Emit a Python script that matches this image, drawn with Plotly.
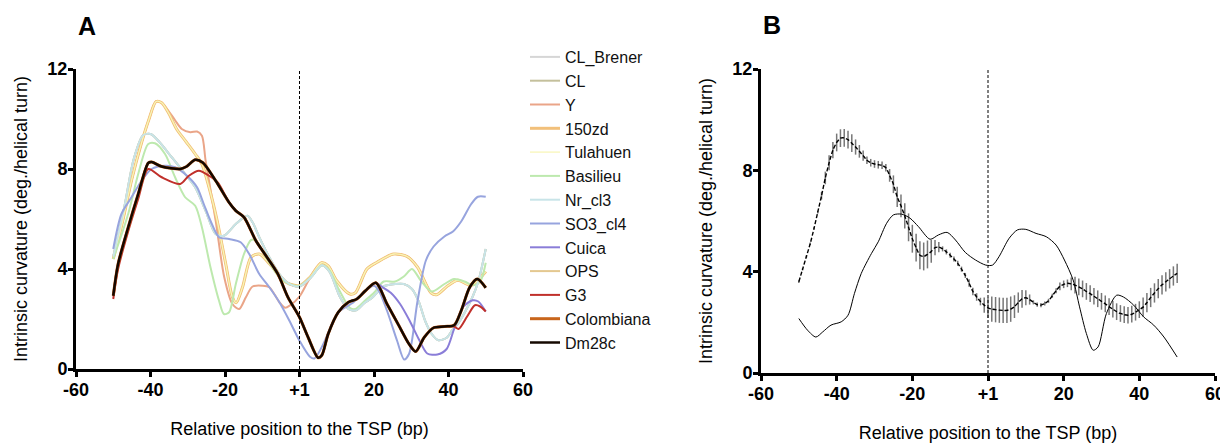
import plotly.graph_objects as go

# ---------------- Panel A data (position in bp, curvature in deg./helical turn) ----------------
dm28c_x = [-50, -48.7, -46, -43.3, -40.6, -39.7, -37, -32, -30.3, -28, -26, -22.5, -18.9, -17.1, -14.9,
           -11.7, -9, -5.8, -3.1, 0, 2.3, 5, 6, 7.7, 10.4, 13.1, 15.4, 17.7, 20.5, 23.5, 26.7, 29.4,
           31.2, 33.5, 36, 38.9, 41.5, 43.4, 45.7, 47.7, 50]
dm28c_y = [2.93, 4.2, 5.66, 7.0, 8.24, 8.28, 8.1, 8.0, 8.1, 8.37, 8.26, 7.53, 6.66, 6.33, 6.07,
           5.13, 4.53, 3.8, 2.87, 2.07, 1.27, 0.45, 0.55, 1.4, 2.27, 2.67, 2.8, 3.13, 3.45, 2.6, 1.73, 1.0,
           0.7, 1.27, 1.65, 1.7, 1.75, 2.33, 3.27, 3.6, 3.25]

colombiana_x = dm28c_x
colombiana_y = dm28c_y

g3_x = [-50, -48.7, -46, -43.3, -40.6, -37, -32, -29.7, -27, -24.3, -22, -18.9, -17.1, -14.9,
        -11.7, -9, -5.8, -3.1, 0, 2.3, 5, 6, 7.7, 10.4, 13.1, 15.4, 17.7, 20.5, 23.5, 26.7, 29.4,
        31.2, 33.5, 36, 38.9, 41.5, 42.7, 45, 47.1, 48.5, 50]
g3_y = [2.8, 4.0, 5.5, 6.8, 8.0, 7.67, 7.4, 7.73, 7.93, 7.73, 7.47, 6.66, 6.33, 6.07,
        5.13, 4.53, 3.8, 2.87, 2.07, 1.27, 0.45, 0.55, 1.4, 2.27, 2.67, 2.8, 3.13, 3.45, 2.6, 1.73, 1.0,
        0.7, 1.27, 1.65, 1.7, 1.7, 1.6, 2.1, 2.55, 2.5, 2.3]

cuica_x = [-50, -48.7, -46, -43.3, -40.6, -39.7, -37, -32, -30.3, -28, -26, -22.5, -18.9, -17.1, -14.9,
           -11.7, -9, -5.8, -3.1, 0, 2.3, 5, 6, 7.7, 10.4, 13.1, 15.4, 17.7, 20.5, 22, 24.5, 27, 29.5,
           32, 34.3, 37, 39.5, 41.5, 44, 46.5, 48, 50]
cuica_y = [2.93, 4.2, 5.66, 7.0, 8.24, 8.28, 8.1, 8.0, 8.1, 8.37, 8.26, 7.53, 6.66, 6.33, 6.07,
           5.13, 4.53, 3.8, 2.87, 2.07, 1.27, 0.45, 0.55, 1.4, 2.27, 2.67, 2.8, 3.13, 3.45, 3.3, 3.05, 2.6, 1.95,
           1.2, 0.62, 0.58, 0.8, 1.6, 2.5, 2.75, 2.7, 2.3]

so3_x = [-50, -47.8, -45.1, -42.4, -39.7, -36.1, -33.4, -30.2, -27.5, -25.7, -23.9, -21.6, -18.9, -15.8,
         -13.5, -10.8, -8.1, -5.4, -2.7, 0, 2.8, 4, 6.4, 9.1, 10.9, 14.5, 17.7, 20, 21.3, 23.5, 26.2,
         28.1, 29.4, 31.7, 33.9, 36, 38.9, 41.2, 43.4, 46.1, 47.9, 50]
so3_y = [4.8, 6.2, 6.87, 7.53, 8.0, 8.13, 8.07, 7.73, 7.27, 6.6, 5.93, 5.27, 5.2, 5.07,
         4.6, 3.8, 3.27, 2.67, 1.93, 1.13, 0.49, 0.42, 1.0, 1.93, 2.33, 2.67, 3.13, 3.33, 3.13, 2.33, 1.13,
         0.38, 0.6, 2.73, 4.33, 4.9, 5.3, 5.5, 5.9, 6.6, 6.89, 6.89]

yellow_x = [-50, -47.5, -45, -42.5, -40.5, -38.5, -37, -35, -33, -30.5, -28, -26.2, -24.3, -22.1, -19.8,
            -18, -17, -15.3, -13, -10.8, -8, -3.6, 0, 2.8, 5.9, 7.7, 10, 13.5, 15, 18.1, 20.8, 25.3, 28.9,
            31.7, 35.3, 36.8, 39.8, 42.5, 46.1, 50]
yellow_y = [4.4, 5.9, 7.6, 9.0, 9.95, 10.7, 10.65, 10.2, 9.6, 9.1, 8.6, 8.2, 7.27, 5.93, 4.2,
            2.87, 2.65, 3.27, 4.47, 4.6, 4.2, 3.47, 3.33, 3.67, 4.25, 4.13, 3.53, 3.0, 3.05, 4.0, 4.27, 4.6, 4.5,
            4.07, 3.05, 2.97, 3.33, 3.55, 3.35, 3.9]
zd150_x, zd150_y = yellow_x, yellow_y
tulahuen_x, tulahuen_y = yellow_x, yellow_y
ops_x, ops_y = yellow_x, yellow_y

y_x = [-50, -47.5, -45, -42.5, -40.5, -38.5, -37, -35.2, -33.4, -31.6, -29.3, -27.5, -26.2, -25.2, -22.5,
       -20.2, -18, -16.2, -14.4, -12.6, -9.9, -8.1, -5.4, -3.9, -2.5, 0, 1.9, 3.7, 5.9, 7.7, 10, 13.5, 15,
       18.1, 20.8, 25.3, 28.9, 31.7, 35.3, 36.8, 39.8, 42.5, 46.1, 50]
y_y = [4.4, 5.9, 7.6, 9.0, 9.95, 10.7, 10.65, 10.33, 9.95, 9.6, 9.47, 9.5, 9.33, 8.33, 5.93,
       3.67, 2.6, 2.4, 2.87, 3.3, 3.33, 3.27, 2.67, 2.45, 2.55, 2.9, 3.4, 3.87, 4.25, 4.13, 3.53, 3.0, 3.05,
       4.0, 4.27, 4.6, 4.5, 4.07, 3.05, 2.97, 3.33, 3.55, 3.35, 3.9]

basilieu_x = [-50, -46, -43.3, -40.6, -38.8, -36.1, -33.4, -30.7, -28, -26.2, -23.9, -21.6, -20.3, -18.9,
              -17.1, -14.9, -13, -11.7, -9, -5.4, -2.7, 0, 3, 6, 8, 10.5, 13.5, 15, 17.7, 20, 22.6, 25.7,
              28, 30.2, 32.6, 35.5, 38.9, 41.5, 44.3, 46.5, 48.5, 50]
basilieu_y = [4.4, 6.2, 7.8, 9.0, 9.03, 8.6, 7.67, 6.87, 6.53, 5.67, 4.07, 2.73, 2.2, 2.27,
              3.4, 4.6, 5.16, 5.13, 4.47, 3.67, 3.4, 3.33, 3.67, 4.15, 3.95, 3.2, 2.45, 2.4, 2.75, 3.05, 3.5, 3.5,
              3.7, 4.0, 3.53, 3.1, 3.4, 3.6, 3.5, 3.35, 3.5, 4.25]

nr_x = [-50, -47, -44.5, -42, -40, -37.9, -34.3, -30.7, -28, -25.2, -22.5, -20.3, -17.1, -14, -12.6,
        -10.8, -8.1, -5.4, -2.7, 0, 3, 6, 8, 10.9, 13.1, 15.2, 17.5, 19.5, 22.5, 25.7, 28, 30.2, 32,
        33.8, 35.5, 37.3, 39.5, 41, 42.5, 44.5, 46.5, 48, 50]
nr_y = [4.5, 6.5, 8.4, 9.35, 9.4, 9.13, 8.47, 7.8, 7.27, 6.33, 5.4, 5.33, 5.8, 6.13, 5.87,
        5.27, 4.47, 3.8, 3.4, 3.3, 3.65, 4.15, 3.9, 2.87, 2.4, 2.35, 2.65, 2.85, 3.3, 3.4, 3.4, 3.2, 2.7,
        1.9, 1.4, 1.15, 1.25, 1.55, 1.8, 2.3, 2.9, 3.5, 4.8]
cl_brener_x, cl_brener_y = nr_x, nr_y
cl_x, cl_y = nr_x, nr_y

# ---------------- Panel B data ----------------
b_pos = list(range(-50, 51))
b_mean = [3.6, 4.1, 4.6, 5.1, 5.7, 6.35, 7.0, 7.7, 8.3, 8.8,
          9.1, 9.27, 9.28, 9.21, 9.07, 8.92, 8.75, 8.58, 8.4, 8.3,
          8.25, 8.22, 8.2, 8.1, 7.8, 7.45, 6.95, 6.6, 6.2, 5.75,
          5.3, 4.95, 4.65, 4.6, 4.68, 4.8, 4.95, 4.97, 4.9, 4.78,
          4.65, 4.5, 4.33, 4.1, 3.85, 3.55, 3.22, 3.0, 2.82, 2.68,
          2.57, 2.52, 2.5, 2.48, 2.47, 2.47, 2.52, 2.62, 2.78, 2.93,
          2.97, 2.9, 2.79, 2.7, 2.68, 2.74, 2.85, 3.05, 3.25, 3.42,
          3.5, 3.54, 3.52, 3.47, 3.4, 3.32, 3.22, 3.13, 3.03, 2.93,
          2.83, 2.73, 2.62, 2.52, 2.42, 2.35, 2.3, 2.28, 2.32, 2.4,
          2.5, 2.6, 2.78, 2.98, 3.16, 3.33, 3.48, 3.6, 3.72, 3.83,
          3.93]
b_err = [0.05, 0.05, 0.05, 0.05, 0.05, 0.05, 0.15, 0.25, 0.3, 0.32,
         0.35, 0.35, 0.35, 0.35, 0.35, 0.3, 0.25, 0.2, 0.15, 0.15,
         0.15, 0.15, 0.15, 0.15, 0.25, 0.35, 0.4, 0.45, 0.5, 0.55,
         0.55, 0.55, 0.55, 0.55, 0.55, 0.45, 0.3, 0.2, 0.1, 0.1,
         0.1, 0.1, 0.1, 0.1, 0.1, 0.15, 0.15, 0.15, 0.15, 0.3,
         0.4, 0.5, 0.5, 0.5, 0.5, 0.5, 0.5, 0.45, 0.4, 0.35,
         0.3, 0.2, 0.08, 0.08, 0.08, 0.08, 0.08, 0.08, 0.1, 0.15,
         0.15, 0.15, 0.25, 0.33, 0.33, 0.33, 0.33, 0.33, 0.33, 0.33,
         0.33, 0.33, 0.33, 0.33, 0.33, 0.33, 0.33, 0.33, 0.33, 0.33,
         0.33, 0.38, 0.38, 0.38, 0.38, 0.38, 0.38, 0.38, 0.38, 0.38,
         0.38]
b_line_x = [-50, -47.7, -45.5, -43.7, -41.5, -38.8, -37, -35.3, -33.5, -30.8, -29, -26.8, -25, -22.8,
            -20.6, -18.4, -15.3, -13.1, -10.8, -8.6, -6, -3.3, -0.6, 1.2, 2.9, 5.6, 7.8, 10, 12.7, 15.4,
            18, 20.2, 22.5, 24.2, 26, 27.8, 29.1, 31.3, 34, 35.8, 38.5, 41.1, 43.8, 46.5, 50]
b_line_y = [2.15, 1.69, 1.42, 1.62, 1.89, 2.02, 2.28, 3.14, 3.93, 4.72, 5.18, 5.91, 6.24, 6.27,
            6.11, 5.78, 5.28, 5.45, 5.55, 5.25, 4.76, 4.46, 4.26, 4.26, 4.59, 5.32, 5.65, 5.67, 5.51, 5.38,
            5.05, 4.46, 3.67, 2.61, 1.56, 0.9, 1.03, 2.35, 3.07, 3.0, 2.68, 2.22, 1.89, 1.42, 0.63]

x_ticks = [-60, -40, -20, 0, 20, 40, 60]
x_tick_text = ["-60", "-40", "-20", "+1", "20", "40", "60"]
y_ticks = [0, 4, 8, 12]

# name, x, y, color, width, legend order
series_a = [
    ("CL_Brener", cl_brener_x, cl_brener_y, "#d6d6d6", 2, 1),
    ("CL", cl_x, cl_y, "#c4c09c", 2, 2),
    ("Y", y_x, y_y, "#eaa588", 2, 3),
    ("OPS", ops_x, ops_y, "#e4c890", 2, 10),
    ("150zd", zd150_x, zd150_y, "#f2c07a", 3, 4),
    ("Tulahuen", tulahuen_x, tulahuen_y, "#f8f6b8", 1.3, 5),
    ("Basilieu", basilieu_x, basilieu_y, "#bde9ae", 2, 6),
    ("Nr_cl3", nr_x, nr_y, "#c8e4e8", 2, 7),
    ("SO3_cl4", so3_x, so3_y, "#97a4de", 2, 8),
    ("Cuica", cuica_x, cuica_y, "#8a7dd8", 2, 9),
    ("G3", g3_x, g3_y, "#c0302b", 2, 11),
    ("Colombiana", colombiana_x, colombiana_y, "#c8651b", 3, 12),
    ("Dm28c", dm28c_x, dm28c_y, "#150800", 2.5, 13),
]

FONT = "Arial, Liberation Sans, sans-serif"
PAGE_OFF = 8          # default body margin of the html page
W, H = 1228 - PAGE_OFF, 446 - PAGE_OFF

def px_x(p):
    return (p - PAGE_OFF) / W

def px_y(p):
    return 1 - (p - PAGE_OFF) / H

fig = go.Figure()
for name, xs, ys, col, wd, rank in series_a:
    fig.add_trace(go.Scatter(
        x=xs, y=ys, mode="lines", name=name, legendrank=rank,
        line=dict(color=col, width=wd, shape="spline", smoothing=0.8),
        xaxis="x", yaxis="y"))

fig.add_trace(go.Scatter(
    x=b_pos, y=b_mean, mode="lines", showlegend=False,
    line=dict(color="black", width=1.4, dash="4px,2px", shape="spline", smoothing=0.6),
    error_y=dict(type="data", array=b_err, visible=True, color="#777777", thickness=1.5, width=0),
    xaxis="x2", yaxis="y2"))
fig.add_trace(go.Scatter(
    x=b_line_x, y=b_line_y, mode="lines", showlegend=False,
    line=dict(color="black", width=1, shape="spline", smoothing=0.8),
    xaxis="x2", yaxis="y2"))

axis_common = dict(showline=True, linecolor="black", linewidth=3, ticks="outside", ticklen=5,
                   tickwidth=2.5, tickcolor="black", showgrid=False, zeroline=False, mirror=False,
                   automargin=False, ticklabelstandoff=-3,
                   tickfont=dict(family=FONT, size=18, color="black", weight="bold"))
xtitle = dict(text="Relative position to the TSP (bp)", font=dict(family=FONT, size=18, color="black"),
              standoff=24)
ytitle = dict(text="Intrinsic curvature (deg./helical turn)", font=dict(family=FONT, size=18, color="black"),
              standoff=16)

fig.update_layout(
    width=W, height=H, margin=dict(l=0, r=0, t=0, b=0, autoexpand=False),
    paper_bgcolor="white", plot_bgcolor="white",
    font=dict(family=FONT, color="black"),
    xaxis=dict(domain=[px_x(76), px_x(523)], range=[-60, 60], tickvals=x_ticks, ticktext=x_tick_text,
               anchor="y", title=xtitle, **axis_common),
    yaxis=dict(domain=[px_y(369), px_y(69)], range=[0, 12], tickvals=y_ticks, anchor="x",
               title=ytitle, **axis_common),
    xaxis2=dict(domain=[px_x(761), px_x(1215)], range=[-60, 60], tickvals=x_ticks, ticktext=x_tick_text,
                anchor="y2", title=xtitle, **axis_common),
    yaxis2=dict(domain=[px_y(373), px_y(69)], range=[0, 12], tickvals=y_ticks, anchor="x2",
                title=ytitle, **axis_common),
    legend=dict(x=px_x(525), y=px_y(40), xanchor="left", yanchor="top",
                font=dict(family=FONT, size=16, color="#111111"), bgcolor="rgba(0,0,0,0)",
                tracegroupgap=0, itemwidth=30),
    showlegend=True,
)

# vertical dashed line at the TSP (+1) in both panels
for xr, yr in (("x", "y"), ("x2", "y2")):
    fig.add_shape(type="line", xref=xr, yref=yr, x0=0, x1=0, y0=0, y1=12,
                  line=dict(color="black", width=1, dash="3px,2px"))

fig.add_annotation(text="<b>A</b>", xref="paper", yref="paper", x=px_x(87), y=px_y(26),
                   xanchor="center", yanchor="middle", showarrow=False,
                   font=dict(family=FONT, size=25, color="black"))
fig.add_annotation(text="<b>B</b>", xref="paper", yref="paper", x=px_x(772), y=px_y(25),
                   xanchor="center", yanchor="middle", showarrow=False,
                   font=dict(family=FONT, size=25, color="black"))

fig.write_html("out.html")
